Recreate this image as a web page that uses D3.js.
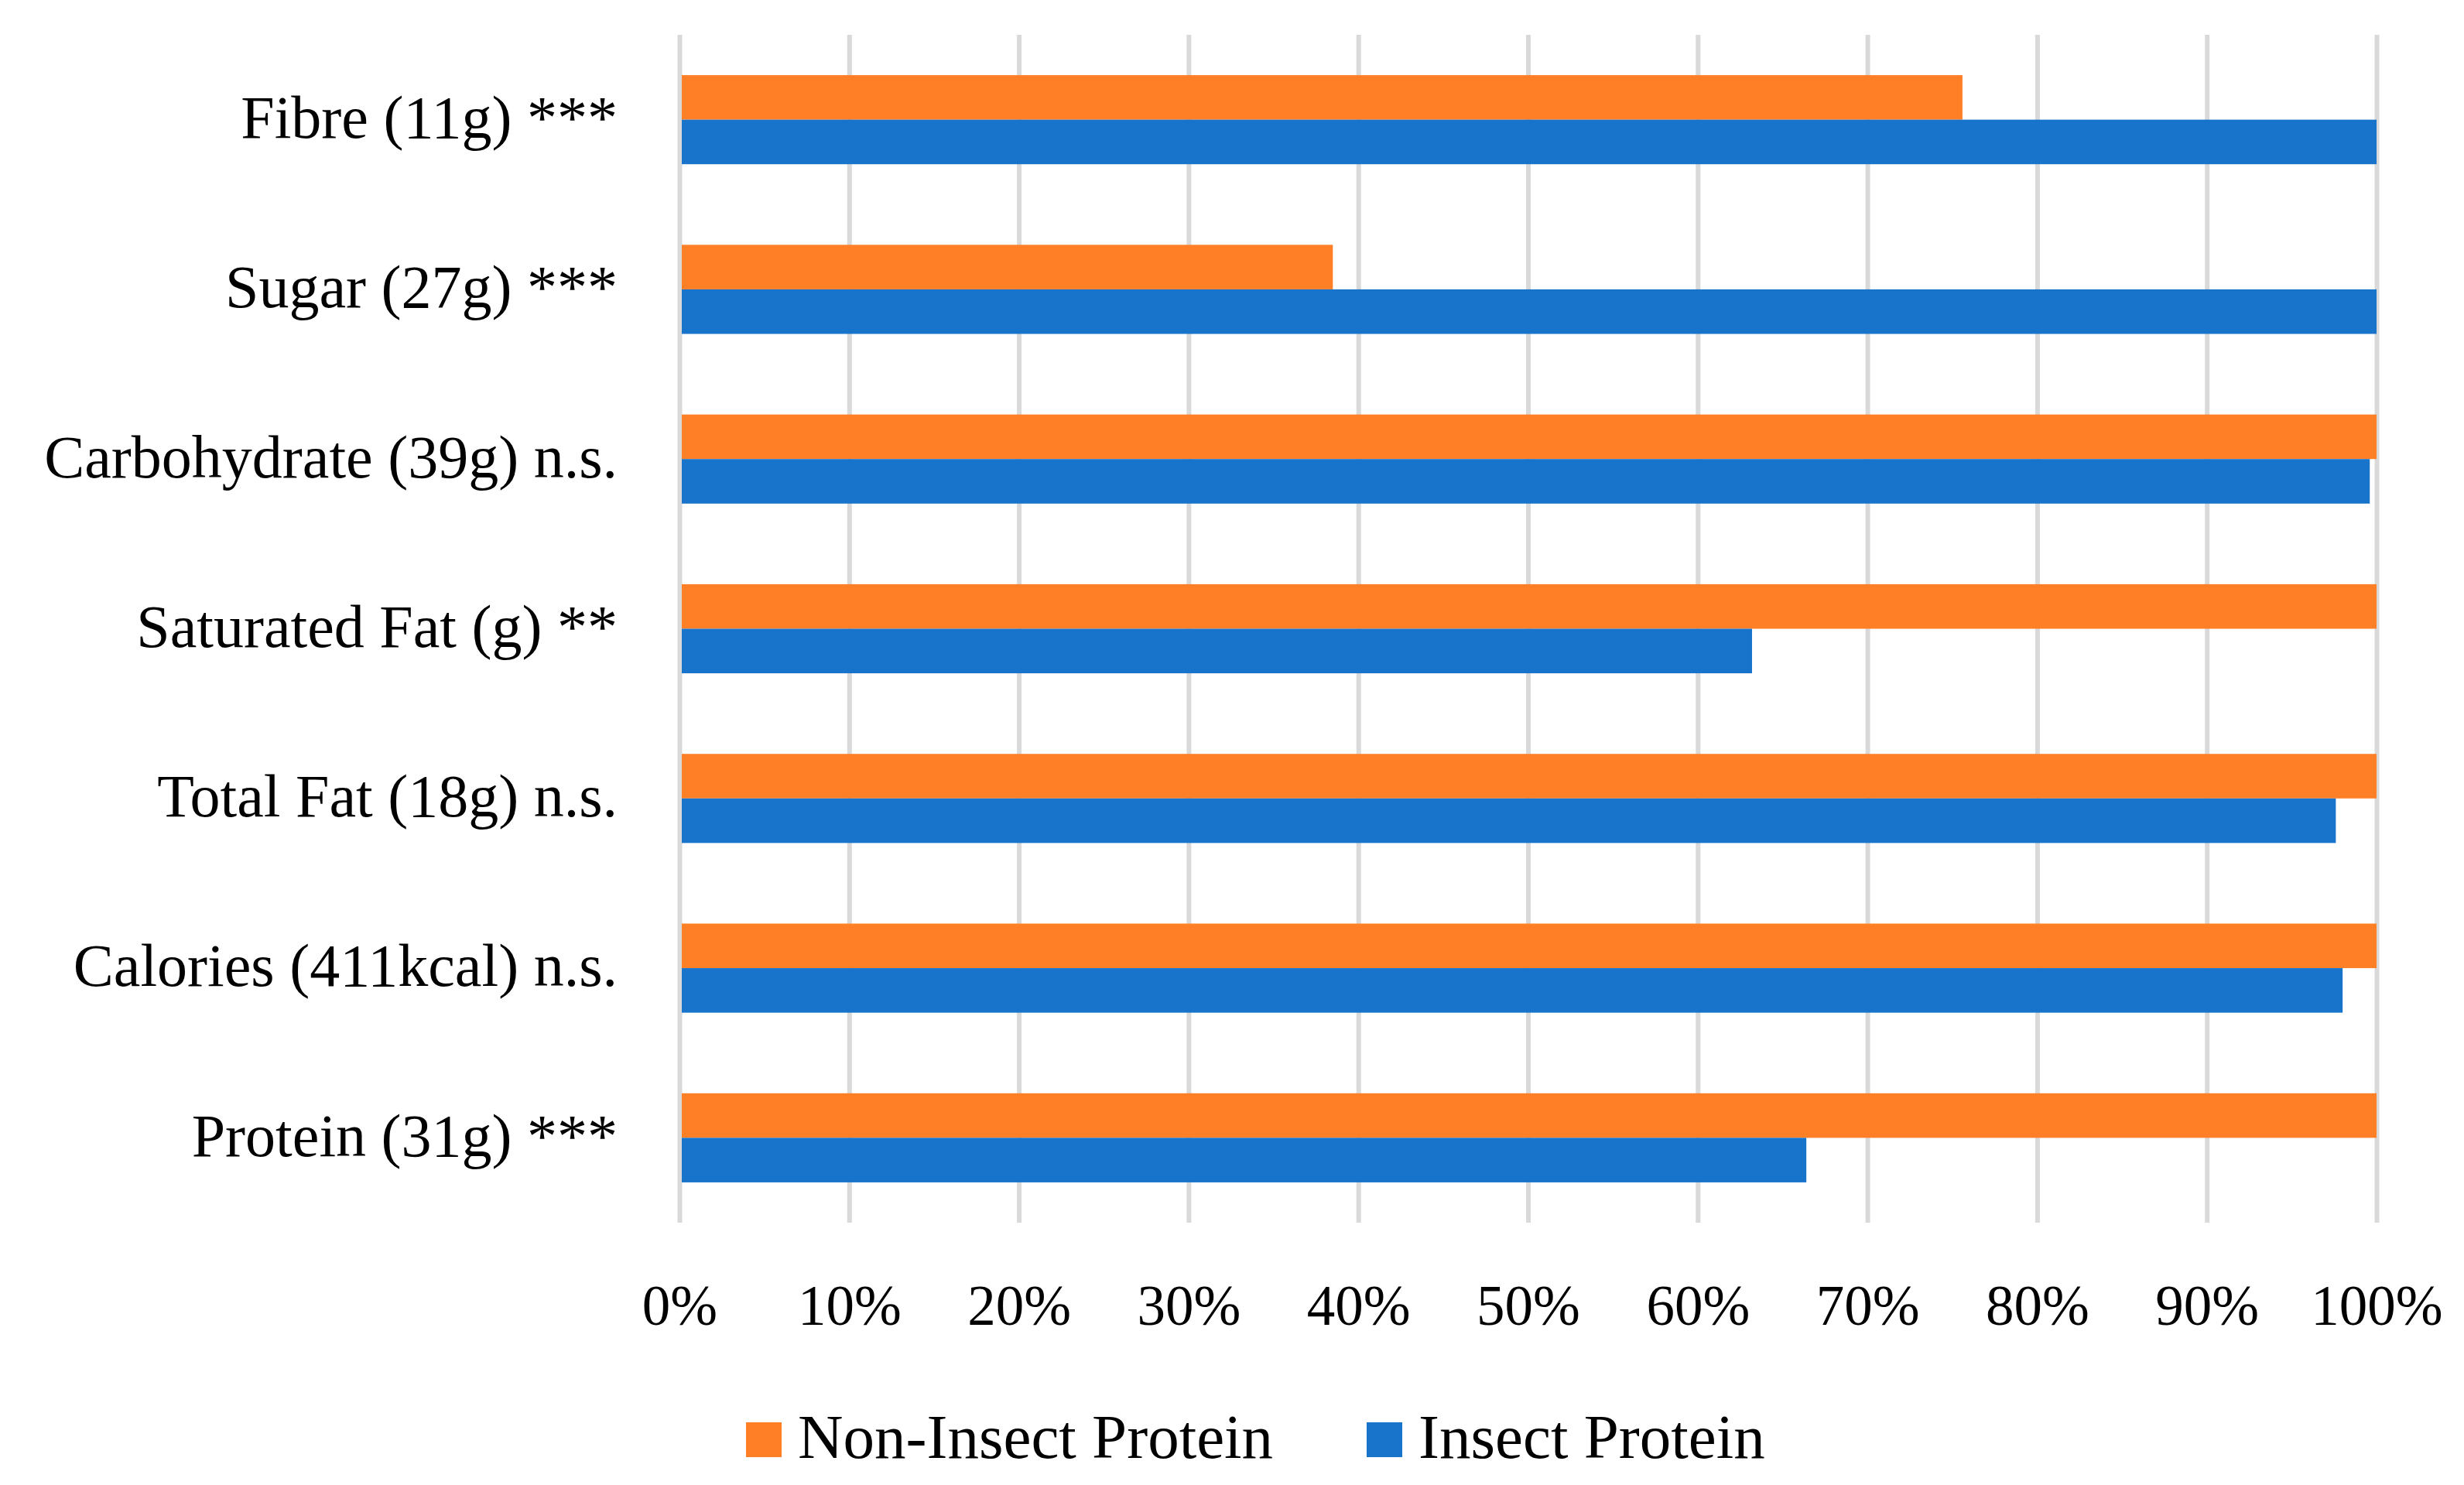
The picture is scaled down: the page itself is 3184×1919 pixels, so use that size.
<!DOCTYPE html>
<html>
<head>
<meta charset="utf-8">
<script src="https://cdn.jsdelivr.net/npm/d3@7"></script>
<style>
  body { margin: 0; background: #fff; }
  text { font-family: "Liberation Serif", "Times New Roman", serif; fill: #000; }
</style>
</head>
<body>
<svg></svg>
<script>
// categories from top to bottom
var categories = ["Fibre (11g) ***", "Sugar (27g) ***", "Carbohydrate (39g) n.s.",
  "Saturated Fat (g) **", "Total Fat (18g) n.s.", "Calories (411kcal) n.s.", "Protein (31g) ***"];
var seriesNames = ["Non-Insect Protein", "Insect Protein"];
var nonInsect = [75.6, 38.5, 100, 100, 100, 100, 100];
var insect = [100, 100, 99.6, 63.2, 97.6, 98.0, 66.4];
var tickValues = [0, 10, 20, 30, 40, 50, 60, 70, 80, 90, 100];
var colors = ["#FF7F27", "#1874CB"];

var svgW = 3184, svgH = 1919;
var svg = d3.select("svg").attr("width", svgW).attr("height", svgH);

// plot area (note: "top" is reserved on window, so use plot* names)
var plotLeft = 878, plotRight = 3071, plotTop = 45, plotBottom = 1580;
var gridW = 6;

var x = d3.scaleLinear().domain([0, 100]).range([plotLeft, plotRight]);
var y = d3.scaleBand().domain(categories).range([plotTop, plotBottom])
  .paddingInner(0.475).paddingOuter(0.2375);
var ySub = d3.scaleBand().domain(seriesNames).range([0, y.bandwidth()]);
var color = d3.scaleOrdinal().domain(seriesNames).range(colors);

// vertical gridlines + tick labels
var xAxis = svg.append("g")
  .attr("transform", "translate(0," + plotBottom + ")")
  .call(d3.axisBottom(x).tickValues(tickValues)
    .tickSize(-(plotBottom - plotTop)).tickPadding(0)
    .tickFormat(function(d) { return d + "%"; }));
xAxis.select(".domain").remove();
xAxis.selectAll("line").attr("stroke", "#D9D9D9").attr("stroke-width", gridW);
xAxis.selectAll("text")
  .attr("y", 132).attr("dy", 0)
  .style("font-size", "73px")
  .style("font-family", "'Liberation Serif', serif");

// bars (start just right of the 0% gridline)
var rows = categories.map(function(c, i) {
  return [{cat: c, s: seriesNames[0], v: nonInsect[i]}, {cat: c, s: seriesNames[1], v: insect[i]}];
});
var groups = svg.append("g").selectAll("g")
  .data(rows).enter().append("g")
  .attr("transform", function(d) { return "translate(0," + y(d[0].cat) + ")"; });
groups.selectAll("rect")
  .data(function(d) { return d; })
  .enter().append("rect")
  .attr("x", x(0) + gridW / 2)
  .attr("y", function(d) { return ySub(d.s); })
  .attr("width", function(d) { return x(d.v) - x(0) - gridW / 2; })
  .attr("height", ySub.bandwidth())
  .attr("fill", function(d) { return color(d.s); });

// category labels
var yAxis = svg.append("g")
  .attr("transform", "translate(" + plotLeft + ",0)")
  .call(d3.axisLeft(y).tickSize(0).tickPadding(80));
yAxis.select(".domain").remove();
yAxis.selectAll("text")
  .attr("dy", "0.3em")
  .style("font-size", "78px")
  .style("font-family", "'Liberation Serif', serif");

// legend
var legendX = [964, 1766];
var legend = svg.append("g").selectAll("g")
  .data(seriesNames).enter().append("g")
  .attr("transform", function(d, i) { return "translate(" + legendX[i] + ",1838)"; });
legend.append("rect")
  .attr("width", 46).attr("height", 45)
  .attr("fill", function(d) { return color(d); });
legend.append("text")
  .attr("x", 67).attr("y", 46)
  .style("font-size", "81px")
  .text(function(d) { return d; });
</script>
</body>
</html>
